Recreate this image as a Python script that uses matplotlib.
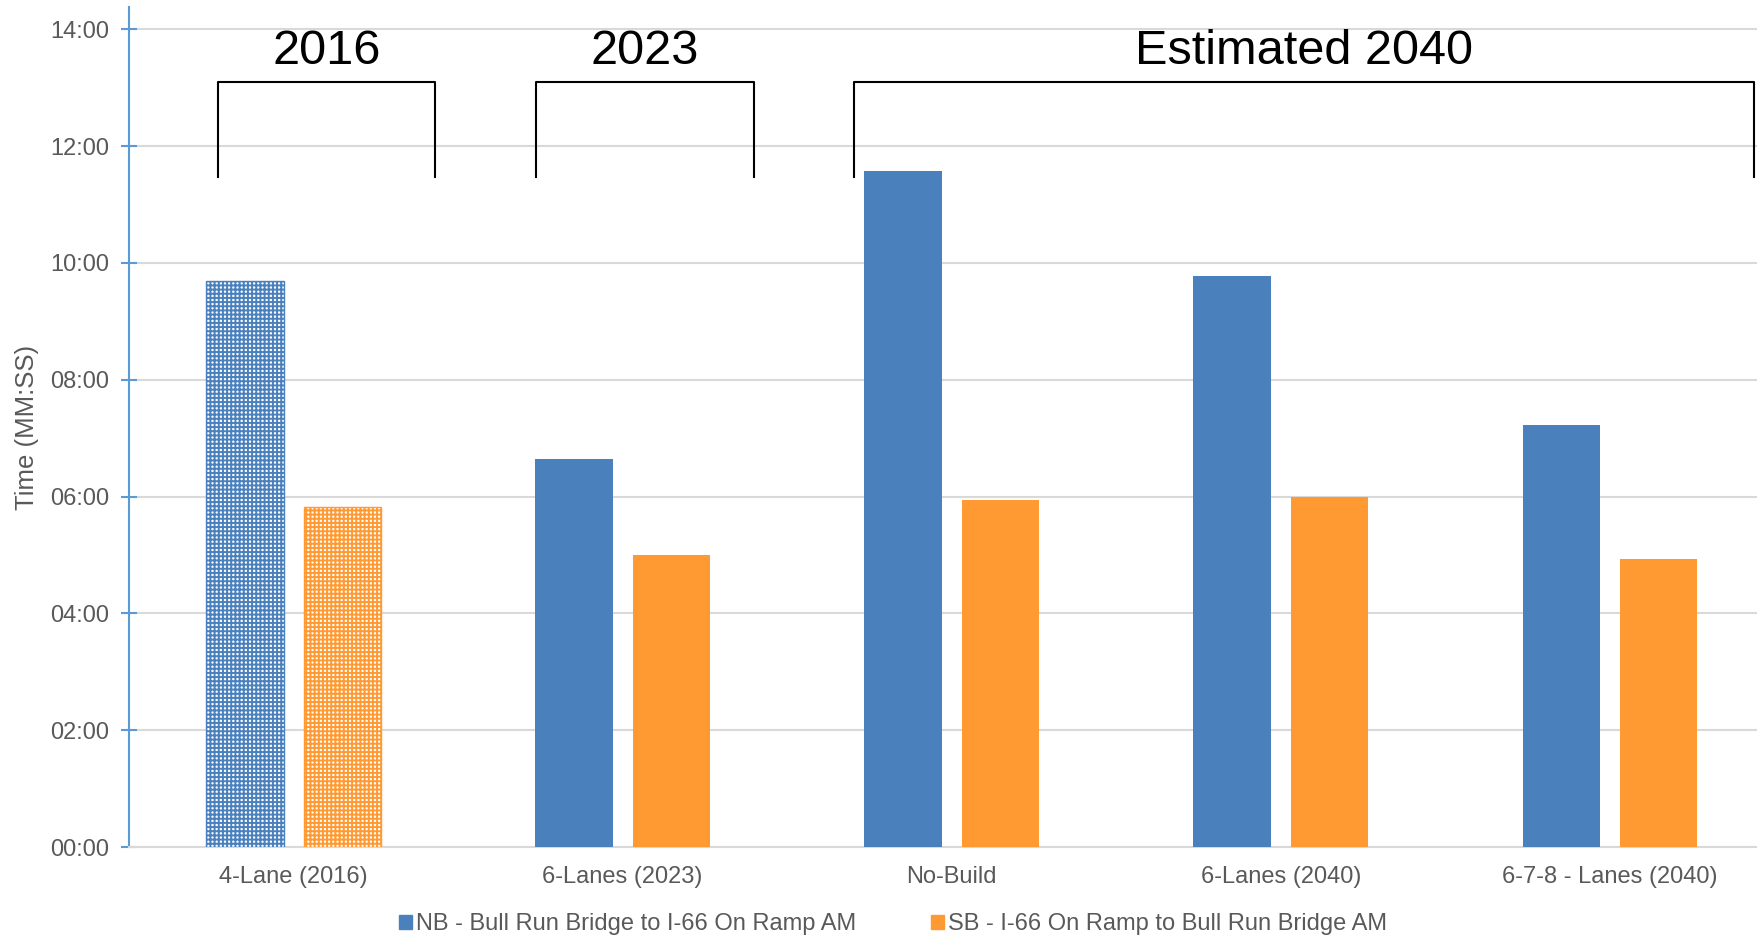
import matplotlib.pyplot as plt
from matplotlib.patches import Patch
import numpy as np

plt.rcParams['font.family'] = ['Liberation Sans', 'DejaVu Sans']
plt.rcParams['hatch.linewidth'] = 1.4

# data (travel time, MM:SS)
scenarios = ["4-Lane (2016)", "6-Lanes (2023)", "No-Build", "6-Lanes (2040)", "6-7-8 - Lanes (2040)"]
nb_times = ["09:41", "06:39", "11:34", "09:47", "07:13"]
sb_times = ["05:49", "05:00", "05:56", "06:00", "04:56"]
nb_label = "NB - Bull Run Bridge to I-66 On Ramp AM"
sb_label = "SB - I-66 On Ramp to Bull Run Bridge AM"
groups = ["2016", "2023", "Estimated 2040"]

blue = "#4A80BC"
orange = "#FF9A33"
grey_txt = "#595959"


def to_minutes(s):
    m, sec = s.split(":")
    return int(m) + int(sec) / 60


nb = np.array([to_minutes(t) for t in nb_times])
sb = np.array([to_minutes(t) for t in sb_times])
x = np.arange(len(scenarios))

fig = plt.figure(figsize=(17.58, 9.41), dpi=100)
ax = fig.add_axes([129 / 1758, 94 / 941, 1 - 129 / 1758, 840 / 941])

w = 0.235
off = 0.148
for i in range(len(x)):
    if i == 0:
        # 2016 measured values: dotted fill
        ax.bar(x[i] - off, nb[i], w, facecolor="white", edgecolor=blue, hatch="++++", linewidth=1, zorder=3)
        ax.bar(x[i] + off, sb[i], w, facecolor="white", edgecolor=orange, hatch="++++", linewidth=1, zorder=3)
    else:
        ax.bar(x[i] - off, nb[i], w, color=blue, zorder=3)
        ax.bar(x[i] + off, sb[i], w, color=orange, zorder=3)

ax.set_xlim(-0.5, -0.5 + 1629 / 329.1)
ax.set_ylim(0, 14.38)
yt = np.arange(0, 15, 2)
ax.set_yticks(yt)
ax.set_yticklabels([f"{int(v):02d}:00" for v in yt])
ax.set_xticks(x)
ax.set_xticklabels(scenarios)

ax.grid(axis="y", color="#D9D9D9", linewidth=1.5, zorder=0)
for s in ["top", "right"]:
    ax.spines[s].set_visible(False)
ax.spines["bottom"].set_color("#D9D9D9")
ax.spines["bottom"].set_linewidth(1.5)
ax.spines["left"].set_color("#5B9BD5")
ax.spines["left"].set_linewidth(1.5)
ax.tick_params(axis="y", direction="inout", length=11, width=1.5, color="#5B9BD5",
               labelsize=17, labelcolor=grey_txt, pad=9)
ax.tick_params(axis="x", length=0, labelsize=17, labelcolor=grey_txt, pad=14)
ax.set_ylabel("Time (MM:SS)", fontsize=18.5, color=grey_txt, labelpad=8)

# group brackets (x spans in category units)
brackets = [(-0.231, 0.430), (0.737, 1.398), (1.704, 4.437)]
for name, (left, right) in zip(groups, brackets):
    ax.plot([left, left, right, right], [11.47, 13.1, 13.1, 11.47], color="black",
            linewidth=1.5, clip_on=False, zorder=4)
    ax.text((left + right) / 2, 13.62, name, ha="center", va="center", fontsize=35, color="black")

handles = [Patch(color=blue, label=nb_label), Patch(color=orange, label=sb_label)]
fig.legend(handles=handles, loc="center", bbox_to_anchor=(0.508, 0.018), ncol=2, frameon=False,
           fontsize=17, handlelength=0.55, handleheight=0.55, handletextpad=0.15, columnspacing=3.2,
           labelcolor=grey_txt)

fig.savefig("out.png", dpi=100)
